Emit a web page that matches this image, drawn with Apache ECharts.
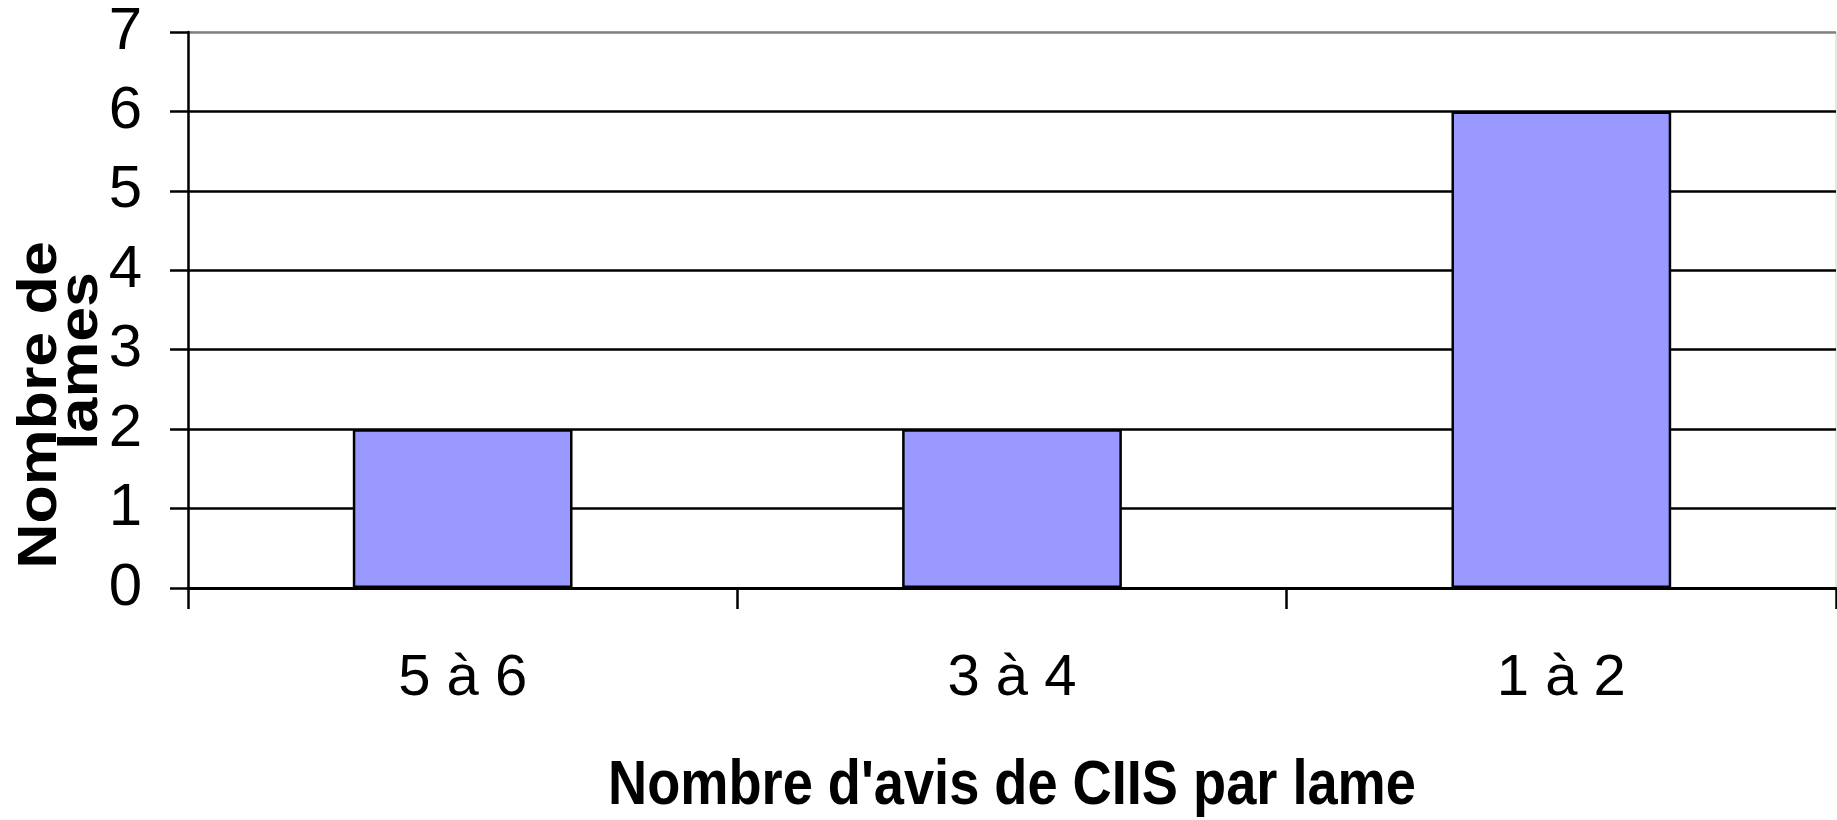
<!DOCTYPE html>
<html>
<head>
<meta charset="utf-8">
<script src="https://cdn.jsdelivr.net/npm/echarts@6/dist/echarts.min.js"></script>
<style>
html,body{margin:0;padding:0;background:#fff;}
#chart{width:1837px;height:820px;}
</style>
</head>
<body>
<div id="chart"></div>
<script>
const categories = ['5 à 6', '3 à 4', '1 à 2'];
const values = [2, 2, 6];
const yTickMin = 0, yTickMax = 7, yTickStep = 1;
const xTitle = "Nombre d'avis de CIIS par lame";
const yTitleLines = ['Nombre de', 'lames'];

const FONT = '"Liberation Sans", Arial, sans-serif';
const chart = echarts.init(document.getElementById('chart'), null, {renderer: 'canvas'});
const gridColors = [];
for (let v = yTickMin; v <= yTickMax; v += yTickStep) gridColors.push(v === yTickMax ? '#808080' : '#000000');

chart.setOption({
  animation: false,
  backgroundColor: '#ffffff',
  grid: {left: 188, right: 1, top: 32, bottom: 232, show: true, borderColor: '#d0d0d0', borderWidth: 1},
  xAxis: {
    type: 'category',
    data: categories,
    boundaryGap: true,
    axisLine: {show: true, lineStyle: {color: '#000', width: 3}},
    axisTick: {show: true, length: 21, alignWithLabel: false, lineStyle: {color: '#000', width: 2.5}},
    axisLabel: {color: '#000', fontSize: 58, fontFamily: FONT, margin: 62},
    splitLine: {show: false}
  },
  yAxis: {
    type: 'value',
    min: yTickMin, max: yTickMax, interval: yTickStep,
    axisLine: {show: true, lineStyle: {color: '#000', width: 2.5}},
    axisTick: {show: true, length: 18, lineStyle: {color: '#000', width: 2.5}},
    axisLabel: {color: '#000', fontSize: 60, fontFamily: FONT, margin: 46},
    splitLine: {show: true, lineStyle: {color: gridColors, width: 2.5}}
  },
  series: [{
    type: 'bar',
    data: values,
    barWidth: '40%',
    itemStyle: {color: '#9999FF', borderColor: '#000', borderWidth: 2.5}
  }],
  graphic: [
    {
      type: 'text', x: 1012, y: 787, scaleX: 0.86,
      style: {text: xTitle, font: 'bold 63px ' + FONT, fill: '#000', align: 'center', verticalAlign: 'middle'}
    },
    {
      type: 'text', x: 41, y: 405, rotation: Math.PI / 2, scaleX: 1.12,
      style: {text: yTitleLines[0], font: 'bold 56px ' + FONT, fill: '#000', align: 'center', verticalAlign: 'middle'}
    },
    {
      type: 'text', x: 82, y: 361, rotation: Math.PI / 2, scaleX: 1.12,
      style: {text: yTitleLines[1], font: 'bold 56px ' + FONT, fill: '#000', align: 'center', verticalAlign: 'middle'}
    }
  ]
});
</script>
</body>
</html>
